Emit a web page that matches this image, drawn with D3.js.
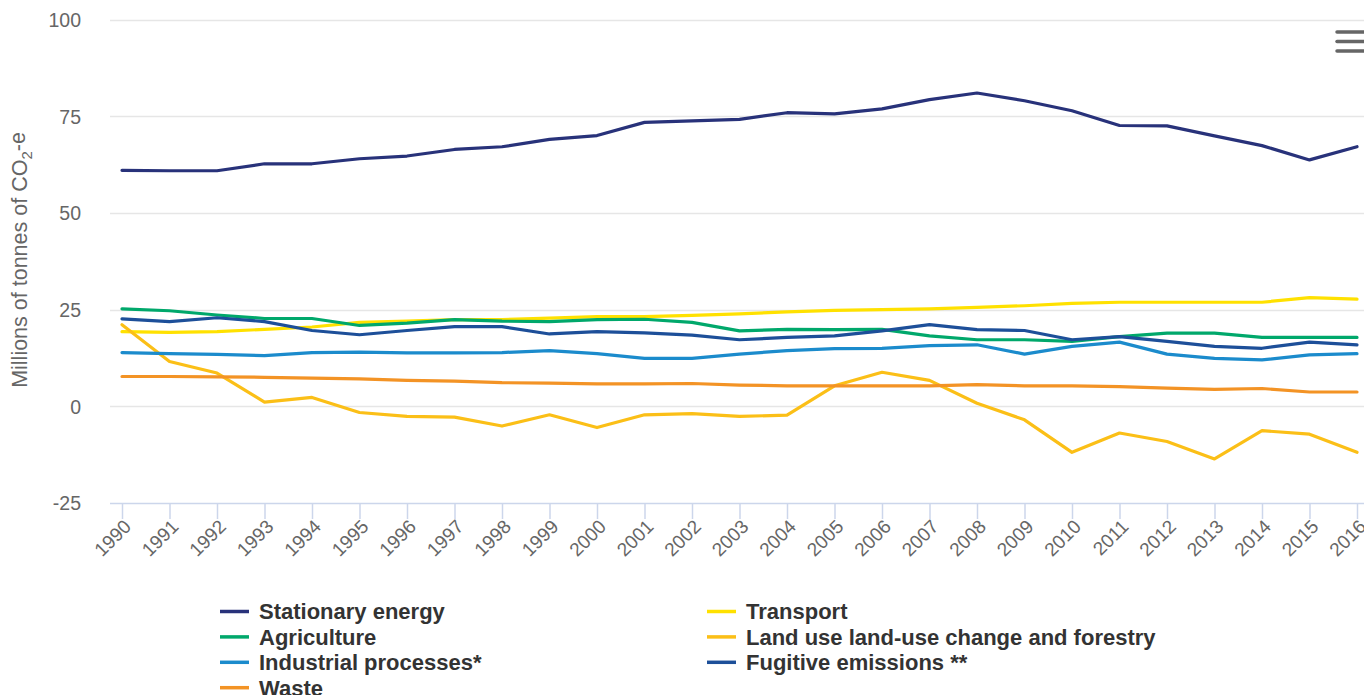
<!DOCTYPE html>
<html>
<head>
<meta charset="utf-8">
<script src="https://cdn.jsdelivr.net/npm/d3@7"></script>
<style>
  html, body { margin: 0; padding: 0; background: #ffffff; }
  svg { display: block; font-family: "Liberation Sans", Arial, Helvetica, sans-serif; }
</style>
</head>
<body>
<svg id="chart" width="1364" height="695"></svg>
<script>
const years = [1990,1991,1992,1993,1994,1995,1996,1997,1998,1999,2000,2001,2002,2003,2004,2005,2006,2007,2008,2009,2010,2011,2012,2013,2014,2015,2016];
const yTicks = [-25, 0, 25, 50, 75, 100];

const stationaryEnergy = [61.0,60.9,60.9,62.7,62.7,64.0,64.7,66.4,67.1,69.0,70.0,73.4,73.8,74.2,75.9,75.6,76.9,79.3,81.0,79.0,76.4,72.6,72.5,69.9,67.4,63.7,67.1];
const transport        = [19.3,19.1,19.3,19.9,20.5,21.7,22.0,22.4,22.4,22.8,23.2,23.2,23.5,23.9,24.4,24.8,25.0,25.2,25.6,26.0,26.6,26.9,26.9,26.9,26.9,28.1,27.7];
const agriculture      = [25.2,24.7,23.6,22.7,22.7,20.9,21.5,22.4,22.0,21.9,22.4,22.5,21.7,19.5,19.9,19.8,19.9,18.2,17.2,17.2,16.8,18.0,18.9,18.9,17.8,17.8,17.8];
const landUse          = [21.1,11.6,8.6,1.1,2.3,-1.6,-2.6,-2.8,-5.1,-2.2,-5.5,-2.2,-1.9,-2.6,-2.3,5.3,8.8,6.7,0.8,-3.5,-11.9,-6.9,-9.1,-13.6,-6.3,-7.2,-11.9];
const industrial       = [13.9,13.6,13.4,13.1,13.9,14.0,13.8,13.8,13.9,14.4,13.6,12.4,12.4,13.5,14.4,14.9,15.0,15.7,15.9,13.5,15.5,16.6,13.5,12.4,12.0,13.3,13.6];
const fugitive         = [22.6,21.9,22.9,21.9,19.6,18.5,19.6,20.6,20.6,18.7,19.3,19.0,18.4,17.2,17.8,18.2,19.5,21.1,19.8,19.6,17.2,18.0,16.8,15.5,15.0,16.6,15.9];
const waste            = [7.7,7.7,7.6,7.5,7.3,7.1,6.7,6.5,6.1,6.0,5.8,5.8,5.9,5.5,5.3,5.3,5.3,5.3,5.6,5.3,5.3,5.1,4.7,4.4,4.6,3.7,3.7];

const seriesNames  = ["Stationary energy","Transport","Agriculture","Land use land-use change and forestry","Industrial processes*","Fugitive emissions **","Waste"];
const seriesValues = [stationaryEnergy, transport, agriculture, landUse, industrial, fugitive, waste];
const seriesColors = ["#28327a","#ffe100","#00a86b","#fbbf17","#1b8bcc","#1d4f99","#f39325"];

const svg = d3.select("#chart");
const plotLeft = 110, plotRight = 1364, plotTop = 19.5, plotBottom = 503;

const x = d3.scalePoint().domain(years).range([122, 1357]);
const y = d3.scaleLinear().domain([-25, 100]).range([plotBottom, plotTop]);

// gridlines
svg.append("g").selectAll("line")
  .data(yTicks.filter(d => d > -25))
  .join("line")
  .attr("x1", plotLeft).attr("x2", plotRight)
  .attr("y1", d => Math.round(y(d)) + 0.5).attr("y2", d => Math.round(y(d)) + 0.5)
  .attr("stroke", "#e6e6e6").attr("stroke-width", 1.5);

// y axis labels
const yAxis = d3.axisLeft(y).tickValues(yTicks).tickFormat(d => String(d)).tickSize(0).tickPadding(0);
const gy = svg.append("g").attr("transform", "translate(81,0)").call(yAxis);
gy.select(".domain").remove();
gy.selectAll("text").attr("fill", "#666666").style("font-size", "19.5px")
  .attr("dy", "0.35em").style("font-family", "'Liberation Sans', Arial, sans-serif");

// y axis title
const yt = svg.append("text")
  .attr("transform", "translate(27,260) rotate(-90)")
  .attr("text-anchor", "middle")
  .attr("fill", "#666666").style("font-size", "21.5px");
yt.append("tspan").text("Millions of tonnes of CO");
yt.append("tspan").attr("dy", "0.3em").style("font-size", "15px").text("2");
yt.append("tspan").attr("dy", "-0.3em").text("-e");

// x axis
const xAxis = d3.axisBottom(x).tickSize(16).tickPadding(0).tickSizeOuter(0);
const gx = svg.append("g").attr("transform", `translate(0,${plotBottom})`).call(xAxis);
gx.select(".domain").attr("d", `M${plotLeft},0.5H${plotRight}`).attr("stroke", "#ccd6eb").attr("stroke-width", 1.5);
gx.selectAll(".tick line").attr("stroke", "#ccd6eb").attr("stroke-width", 1.5);
gx.selectAll(".tick text")
  .attr("fill", "#666666").style("font-size", "19px")
  .attr("text-anchor", "end")
  .attr("transform", "translate(5,20) rotate(-45)")
  .attr("y", 0).attr("dy", "0.35em");

// lines
const line = d3.line().x((d, i) => x(years[i])).y(d => y(d));
svg.append("g").selectAll("path")
  .data(seriesValues)
  .join("path")
  .attr("d", d => line(d))
  .attr("fill", "none")
  .attr("stroke", (d, i) => seriesColors[i])
  .attr("stroke-width", 3.2)
  .attr("stroke-linejoin", "round")
  .attr("stroke-linecap", "round");

// legend
const legX = [220, 707], legY0 = 611.5, legDy = 25.4;
const leg = svg.append("g").selectAll("g")
  .data(seriesNames)
  .join("g")
  .attr("transform", (d, i) => `translate(${legX[i % 2]},${legY0 + Math.floor(i / 2) * legDy})`);
leg.append("line").attr("x1", 0).attr("x2", 29).attr("y1", 0).attr("y2", 0)
  .attr("stroke", (d, i) => seriesColors[i]).attr("stroke-width", 3.5);
leg.append("text").attr("x", 39).attr("y", 0).attr("dy", "0.36em")
  .attr("fill", "#333333").style("font-size", "22px").style("font-weight", "bold")
  .text(d => d);

// menu icon
svg.append("g").selectAll("line")
  .data([0, 1, 2])
  .join("line")
  .attr("x1", 1337).attr("x2", 1372)
  .attr("y1", d => 32 + d * 9.5).attr("y2", d => 32 + d * 9.5)
  .attr("stroke", "#666666").attr("stroke-width", 3.5).attr("stroke-linecap", "round");
</script>
</body>
</html>
